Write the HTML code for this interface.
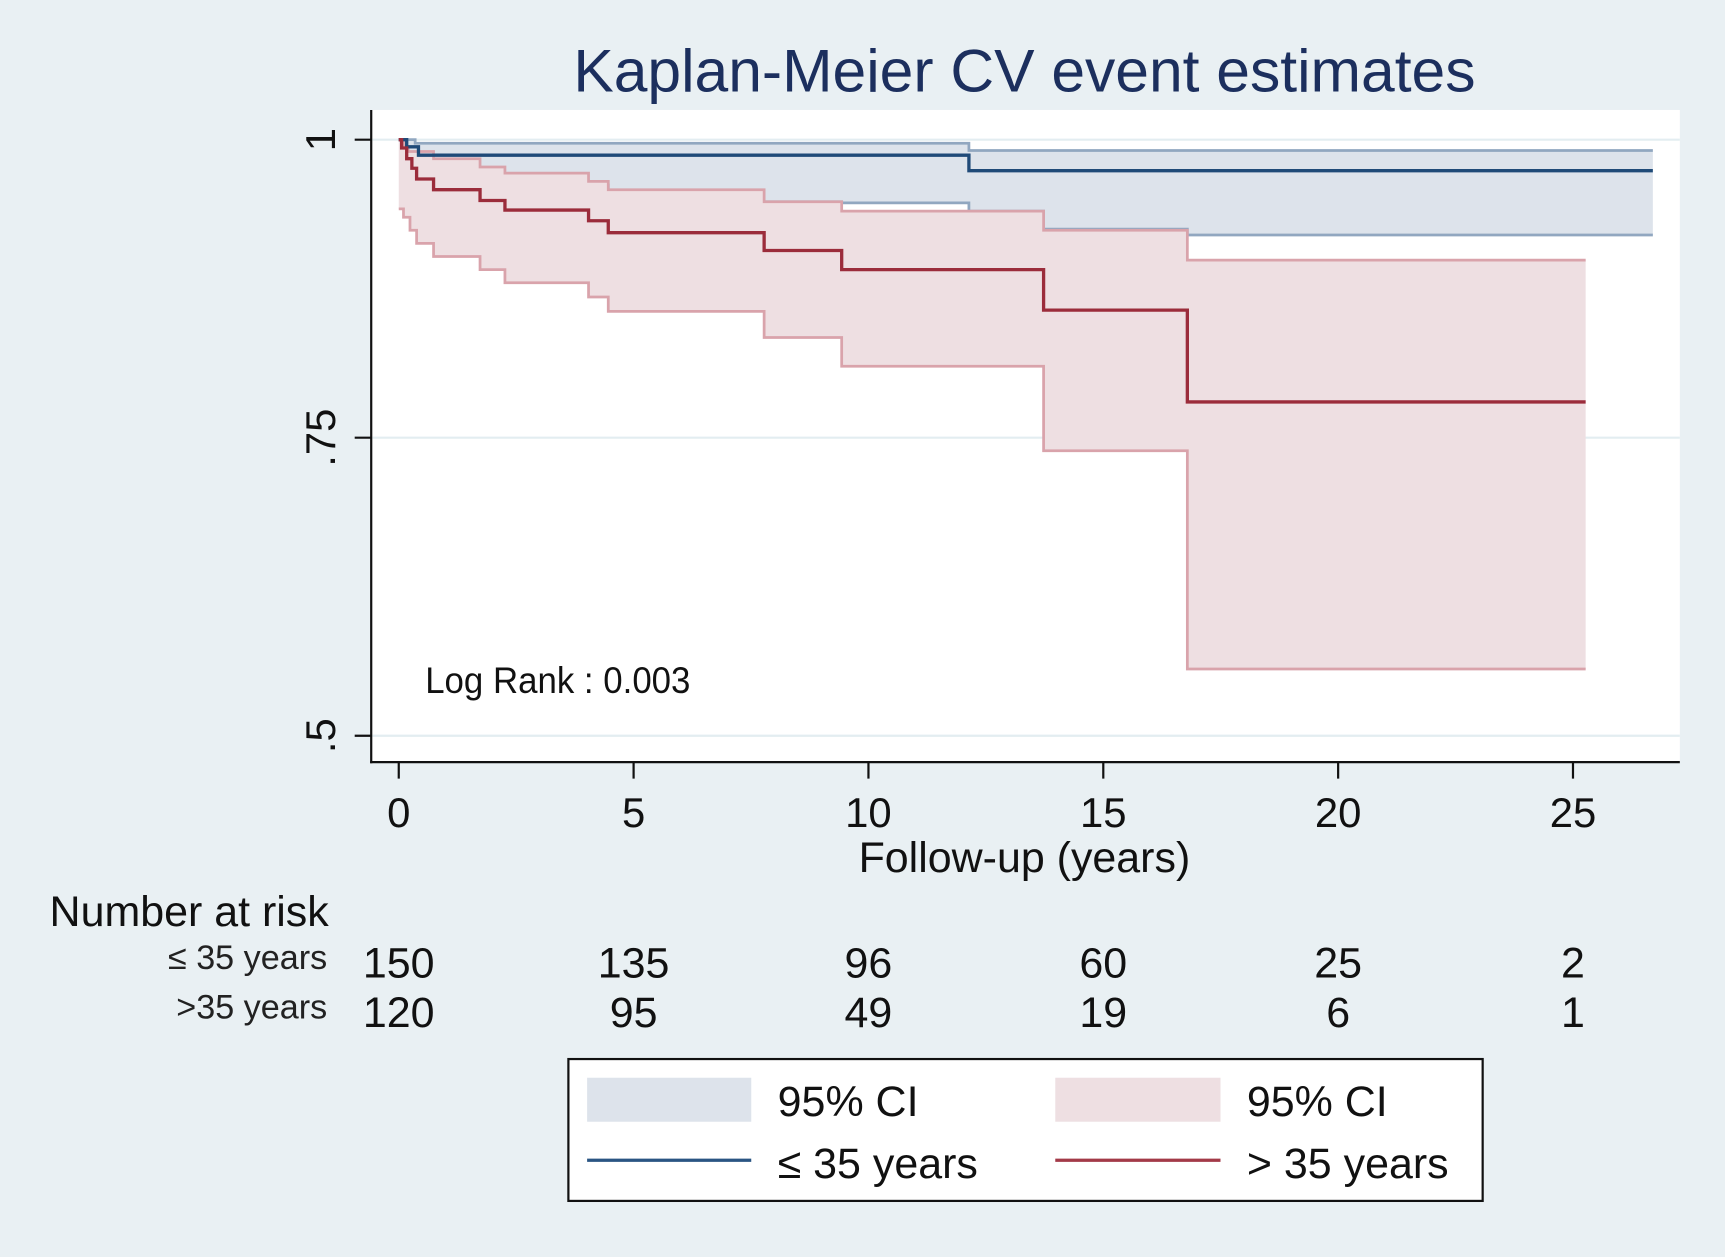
<!DOCTYPE html>
<html><head><meta charset="utf-8"><style>
html,body{margin:0;padding:0;background:#e9f0f3;}
svg{display:block;}
text{font-family:"Liberation Sans",sans-serif;}
</style></head><body>
<svg id="chart" width="1725" height="1257" viewBox="0 0 1566 1143" preserveAspectRatio="none" xmlns="http://www.w3.org/2000/svg">
<rect x="0" y="0" width="1566" height="1143" fill="#e9f0f3"/>
<rect x="337" y="100" width="1188" height="593" fill="#ffffff"/>
<g id="grid"></g>
<g id="marks"></g>
<line x1="337" y1="100" x2="337" y2="694" stroke="#111" stroke-width="2"/>
<line x1="336" y1="693" x2="1525" y2="693" stroke="#111" stroke-width="2"/>
<g id="axes"></g>
<text x="930" y="83" text-anchor="middle" font-size="55" fill="#1c2f5e">Kaplan-Meier CV event estimates</text>
<text x="386" y="630" font-size="34" fill="#111" transform="translate(386 0) scale(0.93 1) translate(-386 0)">Log Rank : 0.003</text>
<text x="930" y="793" text-anchor="middle" font-size="39" fill="#111">Follow-up (years)</text>
<text x="45" y="842" font-size="39" fill="#111">Number at risk</text>
<text x="297" y="881" text-anchor="end" font-size="31" fill="#222">≤ 35 years</text>
<text x="297" y="926" text-anchor="end" font-size="31" fill="#222">&gt;35 years</text>
<g id="risk"></g>
<g>
<rect x="516" y="963" width="830" height="129" fill="#fff" stroke="#111" stroke-width="2"/>
<rect x="533" y="980" width="149" height="40" fill="#dde3eb"/>
<text x="706" y="1015" font-size="39" fill="#111">95% CI</text>
<rect x="958" y="980" width="150" height="40" fill="#eedfe2"/>
<text x="1132" y="1015" font-size="39" fill="#111">95% CI</text>
<line x1="533" y1="1055" x2="682" y2="1055" stroke="#2a5583" stroke-width="3"/>
<text x="706" y="1071" font-size="39" fill="#111">≤ 35 years</text>
<line x1="958" y1="1055" x2="1108" y2="1055" stroke="#a33a48" stroke-width="3"/>
<text x="1132" y="1071" font-size="39" fill="#111">&gt; 35 years</text>
</g>
</svg>
<script>
// data
const xTicks = [0, 5, 10, 15, 20, 25];
const yTicks = [1, 0.75, 0.5];
const yTickLabels = ["1", ".75", ".5"];
const riskYoung = [150, 135, 96, 60, 25, 2];
const riskOld = [120, 95, 49, 19, 6, 1];
const endYoung = 26.7;
const endOld = 25.27;
const youngEst = [[0,1],[0.17,0.994],[0.42,0.987],[12.14,0.974]];
const youngUpper = [[0,1],[0.35,0.997],[12.14,0.991]];
const youngLower = [[0,1],[0.17,0.975],[0.42,0.962],[4.46,0.948],[9.43,0.947],[12.14,0.940],[13.73,0.925],[16.79,0.92]];
const oldEst = [[0,1],[0.06,0.993],[0.17,0.984],[0.28,0.976],[0.38,0.967],[0.74,0.958],[1.73,0.949],[2.26,0.941],[4.04,0.932],[4.46,0.922],[7.78,0.907],[9.43,0.891],[13.73,0.857],[16.79,0.780]];
const oldUpper = [[0,1],[0.1,0.994],[0.2,0.99],[0.74,0.984],[1.73,0.977],[2.26,0.972],[4.04,0.965],[4.46,0.958],[7.78,0.948],[9.43,0.940],[13.73,0.924],[16.79,0.899]];
const oldLower = [[0,0.942],[0.1,0.935],[0.24,0.924],[0.38,0.913],[0.74,0.902],[1.73,0.891],[2.26,0.880],[4.04,0.868],[4.46,0.856],[7.78,0.834],[9.43,0.810],[13.73,0.739],[16.79,0.556]];

const NS = "http://www.w3.org/2000/svg";
function xs(t){ return 362 + t * 42.64; }
function ys(v){ return 127 + (1 - v) * 1084; }
function mk(tag, attrs, parent){
  const e = document.createElementNS(NS, tag);
  for (const k in attrs) e.setAttribute(k, attrs[k]);
  parent.appendChild(e);
  return e;
}
function stepPts(data, end){
  const pts = [];
  for (let i = 0; i < data.length; i++){
    const [t, v] = data[i];
    if (i > 0) pts.push([xs(t), ys(data[i-1][1])]);
    pts.push([xs(t), ys(v)]);
  }
  pts.push([xs(end), ys(data[data.length-1][1])]);
  return pts;
}
function toPath(p){ return p.map((q,i)=>(i?"L":"M")+q[0].toFixed(1)+" "+q[1].toFixed(1)).join(" "); }

const grid = document.getElementById('grid');
yTicks.forEach(v => {
  const l = mk('line', {x1:338, x2:1525, y1:ys(v), y2:ys(v), stroke:'#e3edf1', 'stroke-width':2}, grid);
  
  
});

const marks = document.getElementById('marks');
function band(up, lo, end, fill, name){
  const u = stepPts(up, end), l = stepPts(lo, end).reverse();
  const p = mk('path', {d: toPath(u.concat(l)) + " Z", fill: fill, stroke: 'none'}, marks);
  
  
}
function line(data, end, color, w, name){
  const p = mk('path', {d: toPath(stepPts(data, end)), fill: 'none', stroke: color, 'stroke-width': w}, marks);
  
  
}
band(youngUpper, youngLower, endYoung, '#dde3eb', 'ci-band-young');
line(youngUpper, endYoung, '#91a7c0', 2.5, 'ci-upper-young');
line(youngLower, endYoung, '#91a7c0', 2.5, 'ci-lower-young');
band(oldUpper, oldLower, endOld, '#eedfe2', 'ci-band-old');
line(oldUpper, endOld, '#d9a3ab', 2.5, 'ci-upper-old');
line(oldLower, endOld, '#d9a3ab', 2.5, 'ci-lower-old');
line(youngEst, endYoung, '#1f4a78', 3, 'survival-line-young');
line(oldEst, endOld, '#9b2c3b', 3, 'survival-line-old');

const axes = document.getElementById('axes');
xTicks.forEach(t => {
  const l = mk('line', {x1:xs(t), x2:xs(t), y1:693, y2:708, stroke:'#111', 'stroke-width':2}, axes);
  
  
  const tx = mk('text', {x:xs(t), y:752, 'text-anchor':'middle', 'font-size':38, fill:'#111'}, axes);
  
  
  tx.textContent = t;
});
yTicks.forEach((v, i) => {
  const l = mk('line', {x1:322, x2:337, y1:ys(v), y2:ys(v), stroke:'#111', 'stroke-width':2}, axes);
  
  
  const tx = mk('text', {x:0, y:0, 'text-anchor':'middle', 'font-size':38, fill:'#111', transform:'translate(304 ' + ys(v) + ') rotate(-90)'}, axes);
  
  
  tx.textContent = yTickLabels[i];
});

const risk = document.getElementById('risk');
xTicks.forEach((t, i) => {
  const a = mk('text', {x:xs(t), y:889, 'text-anchor':'middle', 'font-size':39, fill:'#111'}, risk);
  
  
  a.textContent = riskYoung[i];
  const b = mk('text', {x:xs(t), y:934, 'text-anchor':'middle', 'font-size':39, fill:'#111'}, risk);
  
  
  b.textContent = riskOld[i];
});
</script>
</body></html>
